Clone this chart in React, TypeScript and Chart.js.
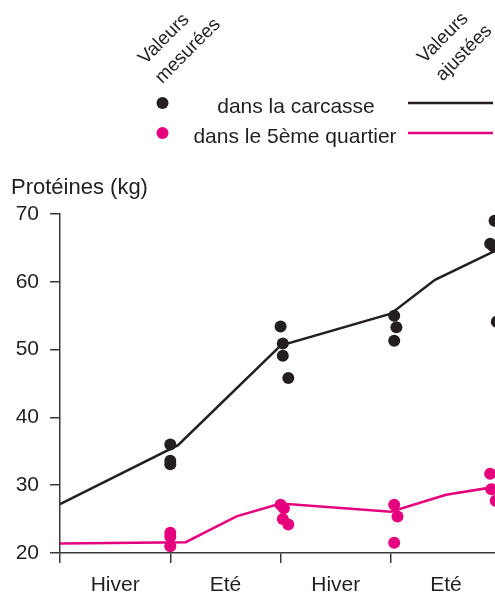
import React, { useEffect, useRef } from "react";
import { Chart, registerables } from "chart.js";

Chart.register(...registerables);

// Time axis in half-year units: 0 = start, 1 = end of first winter, ...
const seasonLabels = ["Hiver", "Eté", "Hiver", "Eté"];
const yTicks = [20, 30, 40, 50, 60, 70];

// Measured protein in the carcass (kg)
const carcassX = [1.0, 1.0, 1.0, 2.0, 2.02, 2.02, 2.07, 3.03, 3.05, 3.03, 3.94, 3.9, 3.93, 3.96];
const carcassY = [36.0, 33.6, 33.1, 53.4, 50.9, 49.1, 45.8, 55.0, 53.3, 51.3, 69.0, 65.6, 65.2, 54.1];

// Measured protein in the fifth quarter (kg)
const quarterX = [1.0, 1.0, 1.0, 2.0, 2.03, 2.02, 2.07, 3.03, 3.06, 3.03, 3.9, 3.91, 3.95];
const quarterY = [23.0, 22.4, 21.0, 27.1, 26.6, 25.0, 24.2, 27.1, 25.4, 21.5, 31.7, 29.4, 27.7];

// Adjusted (fitted) curves
const carcassFitX = [0, 1.07, 2.0, 3.0, 3.4, 4.0];
const carcassFitY = [27.2, 35.9, 50.6, 55.3, 60.3, 65.0];
const quarterFitX = [0, 1.14, 1.6, 2.0, 3.0, 3.5, 4.0];
const quarterFitY = [21.4, 21.6, 25.4, 27.3, 26.1, 28.6, 29.9];

const BLACK = "#231f20";
const PINK = "#e5007e";
const AXIS = "#3a3a3a";
const FONT = '"Liberation Sans", Arial, Helvetica, sans-serif';

const pts = (xs: number[], ys: number[]) => xs.map((x, i) => ({ x, y: ys[i] }));

const annotations = {
  id: "annotations",
  afterDraw(chart: any) {
    const ctx = chart.ctx as CanvasRenderingContext2D;
    ctx.save();
    ctx.fillStyle = BLACK;
    ctx.textBaseline = "alphabetic";

    // axis title
    ctx.font = `22px ${FONT}`;
    ctx.textAlign = "left";
    ctx.fillText("Protéines (kg)", 11, 194);

    // legend rows
    ctx.font = `21px ${FONT}`;
    ctx.textAlign = "center";
    ctx.fillText("dans la carcasse", 296, 113);
    ctx.fillText("dans le 5ème quartier", 295, 142.5);

    ctx.beginPath();
    ctx.arc(162.5, 103, 6, 0, Math.PI * 2);
    ctx.fillStyle = BLACK;
    ctx.fill();
    ctx.beginPath();
    ctx.arc(162.5, 133, 6, 0, Math.PI * 2);
    ctx.fillStyle = PINK;
    ctx.fill();

    ctx.lineWidth = 2.5;
    ctx.strokeStyle = BLACK;
    ctx.beginPath();
    ctx.moveTo(408, 103);
    ctx.lineTo(493, 103);
    ctx.stroke();
    ctx.strokeStyle = PINK;
    ctx.beginPath();
    ctx.moveTo(408, 133);
    ctx.lineTo(493, 133);
    ctx.stroke();

    // slanted column headers
    ctx.fillStyle = BLACK;
    ctx.font = `19px ${FONT}`;
    ctx.textBaseline = "middle";
    const slanted: [string, number, number][] = [
      ["Valeurs", 164, 39],
      ["mesurées", 188, 51],
      ["Valeurs", 443, 38],
      ["ajustées", 464, 53],
    ];
    for (const [t, x, y] of slanted) {
      ctx.save();
      ctx.translate(x, y);
      ctx.rotate(-Math.PI / 4);
      ctx.textAlign = "center";
      ctx.fillText(t, 0, 0);
      ctx.restore();
    }
    ctx.restore();
  },
};

export default function App() {
  const ref = useRef<HTMLCanvasElement>(null);

  useEffect(() => {
    if (!ref.current) return;
    const chart = new Chart(ref.current, {
      type: "scatter",
      data: {
        datasets: [
          {
            label: "carcasse ajustée",
            data: pts(carcassFitX, carcassFitY),
            showLine: true,
            borderColor: BLACK,
            borderWidth: 2.5,
            pointRadius: 0,
            tension: 0,
          },
          {
            label: "5ème quartier ajusté",
            data: pts(quarterFitX, quarterFitY),
            showLine: true,
            borderColor: PINK,
            borderWidth: 2.5,
            pointRadius: 0,
            tension: 0,
          },
          {
            label: "carcasse",
            data: pts(carcassX, carcassY),
            backgroundColor: BLACK,
            borderWidth: 0,
            pointRadius: 6,
          },
          {
            label: "5ème quartier",
            data: pts(quarterX, quarterY),
            backgroundColor: PINK,
            borderWidth: 0,
            pointRadius: 6,
          },
        ],
      },
      options: {
        responsive: false,
        animation: false,
        layout: { autoPadding: false, padding: { top: 214, left: 0, right: 0, bottom: 0 } },
        plugins: { legend: { display: false }, tooltip: { enabled: false } },
        scales: {
          x: {
            type: "linear",
            min: 0,
            max: 3.944,
            afterFit: (s: any) => {
              s.height = 43;
              s.paddingLeft = 0;
              s.paddingRight = 0;
            },
            afterBuildTicks: (s: any) => {
              s.ticks = [0, 0.5, 1, 1.5, 2, 2.5, 3, 3.5].map((v) => ({ value: v }));
            },
            ticks: {
              autoSkip: false,
              maxRotation: 0,
              padding: 10,
              color: BLACK,
              font: { family: FONT, size: 21 },
              callback: (v: any) => {
                const n = Number(v);
                return Number.isInteger(n) ? "" : seasonLabels[Math.floor(n)] ?? "";
              },
            },
            grid: {
              drawOnChartArea: false,
              drawTicks: true,
              tickLength: 10,
              lineWidth: 1.5,
              color: (c: any) =>
                c.tick && Number.isInteger(c.tick.value) ? AXIS : "rgba(0,0,0,0)",
            },
            border: { display: true, color: AXIS, width: 1.5 },
          },
          y: {
            type: "linear",
            min: yTicks[0],
            max: yTicks[yTicks.length - 1],
            afterFit: (s: any) => {
              s.width = 60;
              s.paddingTop = 0;
              s.paddingBottom = 0;
            },
            afterBuildTicks: (s: any) => {
              s.ticks = yTicks.map((v) => ({ value: v }));
            },
            ticks: {
              padding: 11,
              color: BLACK,
              font: { family: FONT, size: 21 },
            },
            grid: {
              drawOnChartArea: false,
              drawTicks: true,
              tickLength: 10,
              lineWidth: 1.5,
              color: AXIS,
            },
            border: { display: true, color: AXIS, width: 1.5 },
          },
        },
      },
      plugins: [annotations],
    });
    return () => chart.destroy();
  }, []);

  return (
    <div style={{ position: "absolute", left: 0, top: 0, width: 495, height: 596, background: "#fff" }}>
      <canvas ref={ref} width={495} height={596} />
    </div>
  );
}
